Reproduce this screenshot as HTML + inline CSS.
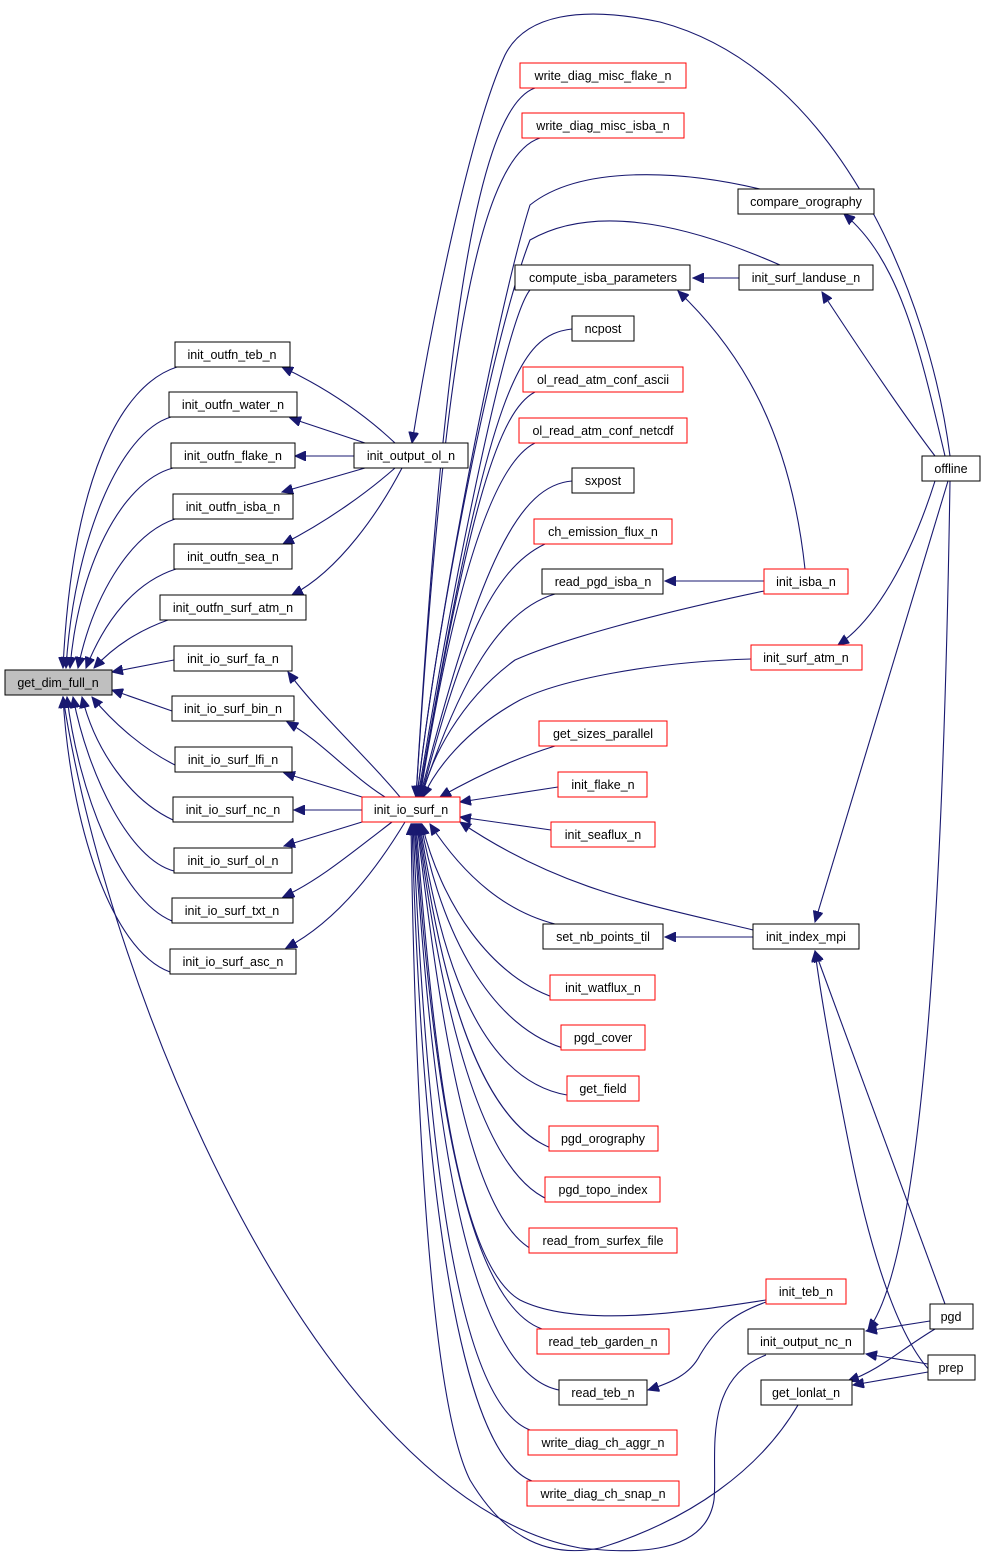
<!DOCTYPE html>
<html><head><meta charset="utf-8"><style>
html,body{margin:0;padding:0;background:#fff;}
svg{display:block;}
text{font-family:"Liberation Sans",sans-serif;font-size:12.5px;fill:#000;text-anchor:middle;}
.e{fill:none;stroke:#191970;stroke-width:1.1;}
.b{fill:#fff;stroke:#000;stroke-width:1;}
.r{fill:#fff;stroke:#f00;stroke-width:1;}
</style></head><body>
<svg width="985" height="1557" viewBox="0 0 985 1557" xmlns="http://www.w3.org/2000/svg">
<defs><marker id="a" markerUnits="userSpaceOnUse" markerWidth="12" markerHeight="10" refX="11" refY="5" orient="auto"><path d="M0,0 L11,5 L0,10 Z" fill="#191970" stroke="#191970"/></marker></defs>
<g class="e" marker-end="url(#a)">
<path d="M177,367 C120,385 72,480 63,668"/>
<path d="M171,417 C120,432 74,540 66,668"/>
<path d="M173,468 C120,482 78,570 70,668"/>
<path d="M175,519 C128,535 92,600 78,668"/>
<path d="M176,569 C135,582 105,620 86,668"/>
<path d="M168,620 C140,630 115,645 94,668"/>
<path d="M174,660 L112,672"/>
<path d="M172,711 L112,690"/>
<path d="M175,765 C145,750 115,725 92,697"/>
<path d="M173,820 C130,800 95,750 82,697"/>
<path d="M174,871 C130,860 88,775 73,697"/>
<path d="M172,921 C120,900 78,790 67,697"/>
<path d="M170,972 C110,950 70,820 63,697"/>
<path d="M766,1355 C700,1380 718,1460 714,1500 C705,1560 620,1552 580,1548 C320,1500 110,1000 63,697"/>
<path d="M798,1405 C760,1470 690,1520 600,1548 C540,1560 500,1530 470,1480 C430,1400 415,1100 411,824"/>
<path d="M395,443 C360,410 320,385 282,367"/>
<path d="M365,443 L290,418"/>
<path d="M354,456 L295,456"/>
<path d="M365,468 L282,492"/>
<path d="M395,468 C370,490 330,520 283,544"/>
<path d="M402,468 C380,510 340,570 292,595"/>
<path d="M400,797 C370,760 320,715 288,672"/>
<path d="M385,797 C350,775 320,740 287,722"/>
<path d="M362,797 L284,773"/>
<path d="M362,810 L294,810"/>
<path d="M362,822 L284,846"/>
<path d="M392,822 C355,850 320,880 283,897"/>
<path d="M405,822 C370,880 330,925 286,948"/>
<path d="M950,456 C930,300 840,70 660,22 C580,5 525,15 505,55 C470,130 430,330 412,443"/>
<path d="M535,88 C470,110 440,400 416,797"/>
<path d="M540,138 C470,160 440,420 416,797"/>
<path d="M760,189 C680,170 580,165 530,205 C500,300 440,600 417,797"/>
<path d="M780,265 C700,230 600,200 530,240 C495,330 440,600 417,797"/>
<path d="M530,290 C505,320 450,600 418,797"/>
<path d="M572,329 C520,335 490,380 419,797"/>
<path d="M535,392 C500,410 470,500 419,797"/>
<path d="M535,443 C500,460 460,550 420,797"/>
<path d="M572,481 C520,485 480,560 420,797"/>
<path d="M545,544 C490,570 460,650 421,797"/>
<path d="M555,594 C500,610 460,680 421,797"/>
<path d="M764,591 C650,615 560,640 515,660 C460,700 430,760 422,797"/>
<path d="M751,659 C650,662 560,680 520,700 C465,730 435,770 423,797"/>
<path d="M555,746 C510,760 470,780 440,797"/>
<path d="M558,787 L460,802"/>
<path d="M551,830 L460,817"/>
<path d="M753,930 C650,905 560,890 460,822"/>
<path d="M555,924 C500,910 460,870 430,824"/>
<path d="M562,1000 C490,980 440,900 422,824"/>
<path d="M570,1050 C490,1030 440,930 421,824"/>
<path d="M567,1095 C480,1080 440,960 420,824"/>
<path d="M560,1151 C480,1130 440,980 419,824"/>
<path d="M555,1202 C480,1180 440,1000 418,824"/>
<path d="M540,1253 C470,1230 440,1020 417,824"/>
<path d="M766,1300 C700,1310 580,1330 520,1300 C450,1260 430,1000 416,824"/>
<path d="M542,1329 C460,1300 430,1050 415,824"/>
<path d="M559,1390 C460,1370 430,1080 414,824"/>
<path d="M530,1430 C450,1400 425,1100 413,824"/>
<path d="M532,1481 C450,1450 420,1120 412,824"/>
<path d="M739,278 L693,278"/>
<path d="M945,456 C920,350 900,260 844,214"/>
<path d="M935,456 C900,410 860,350 822,292"/>
<path d="M935,481 C910,560 875,620 838,645"/>
<path d="M948,481 L815,922"/>
<path d="M950,481 C945,800 930,1250 868,1330"/>
<path d="M805,569 C790,430 740,350 678,291"/>
<path d="M764,581 L665,581"/>
<path d="M753,937 L665,937"/>
<path d="M945,1304 L815,951"/>
<path d="M940,1380 C900,1350 870,1250 850,1150 C830,1050 820,990 815,951"/>
<path d="M766,1302 C730,1315 715,1330 700,1355 C690,1375 670,1383 648,1390"/>
<path d="M930,1321 L866,1331"/>
<path d="M928,1364 L866,1354"/>
<path d="M935,1329 C900,1350 880,1370 848,1381"/>
<path d="M928,1372 L853,1385"/>
</g>
<rect x="5" y="670" width="107" height="25" fill="#bfbfbf" stroke="#000"/><text x="58" y="687">get_dim_full_n</text>
<rect class="b" x="175" y="342" width="115" height="25"/><text x="232" y="359">init_outfn_teb_n</text>
<rect class="b" x="169" y="392" width="128" height="25"/><text x="233" y="409">init_outfn_water_n</text>
<rect class="b" x="171" y="443" width="124" height="25"/><text x="233" y="460">init_outfn_flake_n</text>
<rect class="b" x="173" y="494" width="120" height="25"/><text x="233" y="511">init_outfn_isba_n</text>
<rect class="b" x="174" y="544" width="118" height="25"/><text x="233" y="561">init_outfn_sea_n</text>
<rect class="b" x="160" y="595" width="146" height="25"/><text x="233" y="612">init_outfn_surf_atm_n</text>
<rect class="b" x="174" y="646" width="118" height="25"/><text x="233" y="663">init_io_surf_fa_n</text>
<rect class="b" x="172" y="696" width="122" height="25"/><text x="233" y="713">init_io_surf_bin_n</text>
<rect class="b" x="175" y="747" width="117" height="25"/><text x="233" y="764">init_io_surf_lfi_n</text>
<rect class="b" x="173" y="797" width="120" height="25"/><text x="233" y="814">init_io_surf_nc_n</text>
<rect class="b" x="174" y="848" width="118" height="25"/><text x="233" y="865">init_io_surf_ol_n</text>
<rect class="b" x="172" y="898" width="121" height="25"/><text x="232" y="915">init_io_surf_txt_n</text>
<rect class="b" x="170" y="949" width="126" height="25"/><text x="233" y="966">init_io_surf_asc_n</text>
<rect class="b" x="354" y="443" width="114" height="25"/><text x="411" y="460">init_output_ol_n</text>
<rect class="r" x="362" y="797" width="98" height="25"/><text x="411" y="814">init_io_surf_n</text>
<rect class="r" x="520" y="63" width="166" height="25"/><text x="603" y="80">write_diag_misc_flake_n</text>
<rect class="r" x="522" y="113" width="162" height="25"/><text x="603" y="130">write_diag_misc_isba_n</text>
<rect class="b" x="515" y="265" width="175" height="25"/><text x="603" y="282">compute_isba_parameters</text>
<rect class="b" x="572" y="316" width="62" height="25"/><text x="603" y="333">ncpost</text>
<rect class="r" x="523" y="367" width="160" height="25"/><text x="603" y="384">ol_read_atm_conf_ascii</text>
<rect class="r" x="519" y="418" width="168" height="25"/><text x="603" y="435">ol_read_atm_conf_netcdf</text>
<rect class="b" x="572" y="468" width="62" height="25"/><text x="603" y="485">sxpost</text>
<rect class="r" x="534" y="519" width="138" height="25"/><text x="603" y="536">ch_emission_flux_n</text>
<rect class="b" x="542" y="569" width="121" height="25"/><text x="603" y="586">read_pgd_isba_n</text>
<rect class="r" x="539" y="721" width="128" height="25"/><text x="603" y="738">get_sizes_parallel</text>
<rect class="r" x="558" y="772" width="89" height="25"/><text x="603" y="789">init_flake_n</text>
<rect class="r" x="551" y="822" width="104" height="25"/><text x="603" y="839">init_seaflux_n</text>
<rect class="b" x="543" y="924" width="120" height="25"/><text x="603" y="941">set_nb_points_til</text>
<rect class="r" x="550" y="975" width="105" height="25"/><text x="603" y="992">init_watflux_n</text>
<rect class="r" x="561" y="1025" width="84" height="25"/><text x="603" y="1042">pgd_cover</text>
<rect class="r" x="567" y="1076" width="72" height="25"/><text x="603" y="1093">get_field</text>
<rect class="r" x="549" y="1126" width="109" height="25"/><text x="603" y="1143">pgd_orography</text>
<rect class="r" x="545" y="1177" width="115" height="25"/><text x="603" y="1194">pgd_topo_index</text>
<rect class="r" x="529" y="1228" width="148" height="25"/><text x="603" y="1245">read_from_surfex_file</text>
<rect class="r" x="537" y="1329" width="132" height="25"/><text x="603" y="1346">read_teb_garden_n</text>
<rect class="b" x="559" y="1380" width="88" height="25"/><text x="603" y="1397">read_teb_n</text>
<rect class="r" x="528" y="1430" width="149" height="25"/><text x="603" y="1447">write_diag_ch_aggr_n</text>
<rect class="r" x="527" y="1481" width="152" height="25"/><text x="603" y="1498">write_diag_ch_snap_n</text>
<rect class="b" x="738" y="189" width="136" height="25"/><text x="806" y="206">compare_orography</text>
<rect class="b" x="739" y="265" width="134" height="25"/><text x="806" y="282">init_surf_landuse_n</text>
<rect class="r" x="764" y="569" width="84" height="25"/><text x="806" y="586">init_isba_n</text>
<rect class="r" x="751" y="645" width="111" height="25"/><text x="806" y="662">init_surf_atm_n</text>
<rect class="b" x="753" y="924" width="106" height="25"/><text x="806" y="941">init_index_mpi</text>
<rect class="r" x="766" y="1279" width="80" height="25"/><text x="806" y="1296">init_teb_n</text>
<rect class="b" x="748" y="1329" width="116" height="25"/><text x="806" y="1346">init_output_nc_n</text>
<rect class="b" x="761" y="1380" width="91" height="25"/><text x="806" y="1397">get_lonlat_n</text>
<rect class="b" x="922" y="456" width="58" height="25"/><text x="951" y="473">offline</text>
<rect class="b" x="930" y="1304" width="43" height="25"/><text x="951" y="1321">pgd</text>
<rect class="b" x="928" y="1355" width="47" height="25"/><text x="951" y="1372">prep</text>
</svg>
</body></html>
